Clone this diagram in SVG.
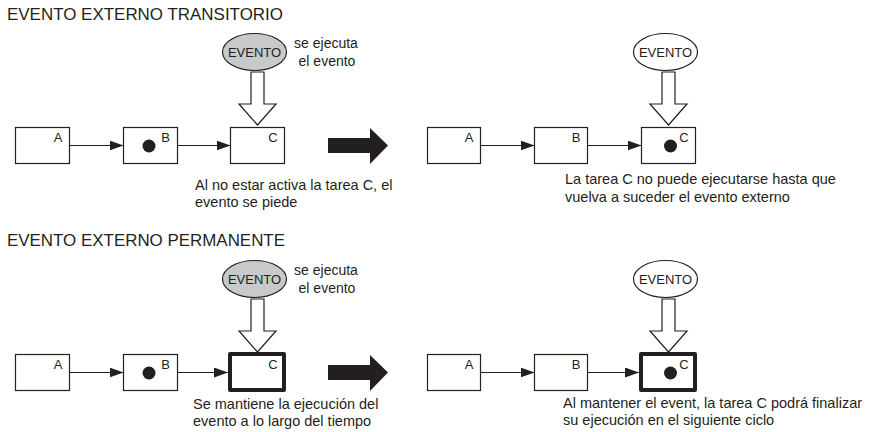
<svg xmlns="http://www.w3.org/2000/svg" width="870" height="432" viewBox="0 0 870 432">
<defs>
<style>
text{font-family:"Liberation Sans",Arial,sans-serif;fill:#231f20}
.title{font-size:16.5px}
.cap{font-size:14.5px}
.note{font-size:14px;text-anchor:middle}
.lbl{font-size:13px;text-anchor:middle}
.ev{font-size:13px;text-anchor:middle}
.box{fill:#fff;stroke:#231f20;stroke-width:1.2}
.thick{fill:#fff;stroke:#231f20;stroke-width:4;stroke-linejoin:round}
.dot{fill:#231f20}
.evg{fill:#c8c9cb;stroke:#231f20;stroke-width:1.2}
.evw{fill:#fff;stroke:#231f20;stroke-width:1.2}
.hollow{fill:#fff;stroke:#231f20;stroke-width:1.2;stroke-linejoin:miter}
.big{fill:#231f20}
.line{stroke:#231f20;stroke-width:1.2;fill:none;marker-end:url(#ah)}
</style>
<marker id="ah" viewBox="0 0 14 10" refX="14" refY="5" markerWidth="14" markerHeight="10" markerUnits="userSpaceOnUse" orient="auto">
<path d="M0,0 L14,5 L0,10 Z" fill="#231f20"/>
</marker>
</defs>

<!-- Row 1 -->
<text class="title" x="7" y="20" textLength="276" lengthAdjust="spacingAndGlyphs">EVENTO EXTERNO TRANSITORIO</text>

<g id="r1-left-A"><rect class="box" x="15.5" y="127.5" width="54" height="36"/><text class="lbl" x="58" y="142">A</text></g>
<g id="r1-left-B"><rect class="box" x="123.5" y="127.5" width="54" height="36"/><circle class="dot" cx="149" cy="146" r="6.5"/><text class="lbl" x="165.5" y="142">B</text></g>
<g id="r1-left-C"><rect class="box" x="230.5" y="127.5" width="54" height="36"/><text class="lbl" x="273" y="142">C</text></g>
<g id="r1-left-event"><ellipse class="evg" cx="254.5" cy="52" rx="32" ry="18.5"/><text class="ev" x="254.5" y="57">EVENTO</text></g>
<g id="r1-left-note"><text class="note" x="326" y="48">se ejecuta</text><text class="note" x="327" y="66">el evento</text></g>
<g id="r1-left-caption"><text class="cap" x="195" y="190">Al no estar activa la tarea C, el</text><text class="cap" x="195" y="207">evento se piede</text></g>

<g id="r1-transition"><path class="big" d="M328,138 L370,138 L370,128 L388,145.5 L370,164 L370,153 L328,153 Z"/></g>

<g id="r1-right-A"><rect class="box" x="427.5" y="127.5" width="53" height="36"/><text class="lbl" x="469" y="142">A</text></g>
<g id="r1-right-B"><rect class="box" x="534.5" y="127.5" width="53" height="36"/><text class="lbl" x="576" y="142">B</text></g>
<g id="r1-right-C"><rect class="box" x="641.5" y="127.5" width="54" height="36"/><circle class="dot" cx="670.5" cy="146" r="6.5"/><text class="lbl" x="684" y="142">C</text></g>
<g id="r1-right-event"><ellipse class="evw" cx="665.5" cy="52" rx="32" ry="18.5"/><text class="ev" x="665.5" y="57">EVENTO</text></g>
<g id="r1-right-caption"><text class="cap" x="565" y="184">La tarea C no puede ejecutarse hasta que</text><text class="cap" x="565" y="202">vuelva a suceder el evento externo</text></g>

<!-- Row 2 -->
<text class="title" x="7" y="246" textLength="278" lengthAdjust="spacingAndGlyphs">EVENTO EXTERNO PERMANENTE</text>

<g id="r2-left-A"><rect class="box" x="15.5" y="354.5" width="54" height="36"/><text class="lbl" x="58" y="369">A</text></g>
<g id="r2-left-B"><rect class="box" x="123.5" y="354.5" width="54" height="36"/><circle class="dot" cx="149" cy="373" r="6.5"/><text class="lbl" x="165.5" y="369">B</text></g>
<g id="r2-left-C"><rect class="thick" x="230" y="354" width="54" height="36"/><text class="lbl" x="273" y="369">C</text></g>
<g id="r2-left-event"><ellipse class="evg" cx="254.5" cy="279" rx="32" ry="18.5"/><text class="ev" x="254.5" y="284">EVENTO</text></g>
<g id="r2-left-note"><text class="note" x="326" y="275">se ejecuta</text><text class="note" x="327" y="293">el evento</text></g>
<g id="r2-left-caption"><text class="cap" x="193" y="409">Se mantiene la ejecución del</text><text class="cap" x="193" y="426">evento a lo largo del tiempo</text></g>

<g id="r2-transition"><path class="big" d="M328,365 L370,365 L370,355 L388,372.5 L370,391 L370,380 L328,380 Z"/></g>

<g id="r2-right-A"><rect class="box" x="427.5" y="354.5" width="53" height="36"/><text class="lbl" x="469" y="369">A</text></g>
<g id="r2-right-B"><rect class="box" x="534.5" y="354.5" width="53" height="36"/><text class="lbl" x="576" y="369">B</text></g>
<g id="r2-right-C"><rect class="thick" x="641" y="354" width="54" height="36"/><circle class="dot" cx="670.5" cy="373" r="6.5"/><text class="lbl" x="684" y="369">C</text></g>
<g id="r2-right-event"><ellipse class="evw" cx="665.5" cy="279" rx="32" ry="18.5"/><text class="ev" x="665.5" y="284">EVENTO</text></g>
<g id="r2-right-caption"><text class="cap" x="563" y="408">Al mantener el event, la tarea C podrá finalizar</text><text class="cap" x="563" y="425">su ejecución en el siguiente ciclo</text></g>

<!-- Connectors -->
<g id="connectors">
<line class="line" x1="69.5" y1="145.5" x2="123.5" y2="145.5"/>
<line class="line" x1="177.5" y1="145.5" x2="230.5" y2="145.5"/>
<line class="line" x1="480.5" y1="145.5" x2="534.5" y2="145.5"/>
<line class="line" x1="587.5" y1="145.5" x2="641.5" y2="145.5"/>
<line class="line" x1="69.5" y1="372.5" x2="123.5" y2="372.5"/>
<line class="line" x1="177.5" y1="372.5" x2="228" y2="372.5"/>
<line class="line" x1="480.5" y1="372.5" x2="534.5" y2="372.5"/>
<line class="line" x1="587.5" y1="372.5" x2="639" y2="372.5"/>
<path class="hollow" d="M251,72 L264,72 L264,104 L276,104 L257.5,125 L239,104 L251,104 Z"/>
<path class="hollow" d="M662,72 L675,72 L675,104 L687,104 L668.5,125 L650,104 L662,104 Z"/>
<path class="hollow" d="M251,299 L264,299 L264,331 L276,331 L257.5,352 L239,331 L251,331 Z"/>
<path class="hollow" d="M662,299 L675,299 L675,331 L687,331 L668.5,352 L650,331 L662,331 Z"/>
</g>
</svg>
